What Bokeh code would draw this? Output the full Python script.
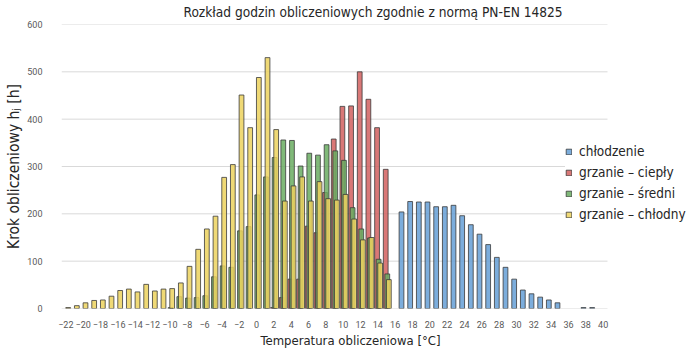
from bokeh.plotting import figure
from bokeh.models import Legend, LegendItem, Title, ColumnDataSource, FixedTicker
from bokeh.embed import file_html
from bokeh.resources import INLINE

# ---- data ----
title_text = "Rozkład godzin obliczeniowych zgodnie z normą PN-EN 14825"
x_title = "Temperatura obliczeniowa [°C]"
y_title = "Krok obliczeniowy hⱼ [h]"

x_ticks = list(range(-22, 41, 2))
x_tick_labels = [str(t).replace("-", "−") for t in x_ticks]
y_ticks = [0, 100, 200, 300, 400, 500, 600]

series_names = ["chłodzenie", "grzanie – ciepły", "grzanie – średni", "grzanie – chłodny"]

chlodzenie_t = list(range(17, 40))
chlodzenie_v = [204, 226, 225, 225, 215, 215, 218, 196, 177, 157, 135, 108, 87,
                62, 39, 31, 24, 18, 12, 0, 0, 2, 2]

cieply_t = list(range(2, 16))
cieply_v = [2, 23, 62, 62, 174, 160, 245, 358, 427, 428, 500, 442, 382, 294]

sredni_t = list(range(-10, 16))
sredni_v = [2, 25, 22, 23, 27, 67, 90, 87, 164, 173, 240, 278, 319, 356, 355, 301,
            328, 324, 346, 333, 313, 213, 168, 149, 104, 73]

chlodny_t = list(range(-22, 16))
chlodny_v = [2, 6, 12, 17, 18, 26, 38, 41, 35, 51, 37, 41, 42, 54, 89, 125, 168, 195,
             277, 304, 451, 382, 488, 530, 378, 227, 259, 278, 227, 268, 232, 229, 241,
             189, 145, 150, 96, 61]

colors = ["#659fd6", "#d2605f", "#6aad62", "#ecd25e"]
offsets = [-0.27, -0.09, 0.09, 0.27]

NARROW = "DejaVu Sans Condensed"
TICKF = "Roboto"
TXT = "#262626"

X_START, X_DATA_END, X_END = -22.5, 40.5, 51.23

p = figure(width=700, height=350, output_backend="svg", toolbar_location=None,
           x_range=(X_START, X_END), y_range=(0, 600),
           min_border_left=61, min_border_right=0, min_border_top=24, min_border_bottom=42)
p.outline_line_color = None
p.background_fill_color = "white"

# horizontal gridlines only over the plotted temperature span
grid = p.segment(x0=X_START, x1=X_DATA_END, y0=y_ticks, y1=y_ticks,
                 line_color="#d9d9d9", line_width=1)
grid.level = "underlay"

all_series = [(chlodzenie_t, chlodzenie_v), (cieply_t, cieply_v),
              (sredni_t, sredni_v), (chlodny_t, chlodny_v)]
renderers = []
for (ts, vs), col, off in zip(all_series, colors, offsets):
    xs = [t + off for t, v in zip(ts, vs) if v > 0]
    tops = [v for v in vs if v > 0]
    src = ColumnDataSource(dict(x=xs, top=tops))
    r = p.vbar(x="x", top="top", bottom=0, width=0.55, source=src,
               fill_color=col, fill_alpha=0.85, line_color="#3a3a3a", line_width=0.8)
    renderers.append(r)

# axes
p.xaxis.ticker = FixedTicker(ticks=x_ticks)
p.xaxis.major_label_overrides = {t: l for t, l in zip(x_ticks, x_tick_labels)}
p.xaxis.axis_line_color = None
p.xaxis.major_tick_line_color = None
p.xaxis.minor_tick_line_color = None
p.xaxis.major_label_standoff = 6
p.xaxis.major_label_text_font = TICKF
p.xaxis.major_label_text_font_size = "9px"
p.xaxis.major_label_text_color = "#595959"

p.yaxis.ticker = FixedTicker(ticks=y_ticks)
p.yaxis.axis_line_color = None
p.yaxis.major_tick_line_color = None
p.yaxis.minor_tick_line_color = None
p.yaxis.major_label_standoff = 13
p.yaxis.major_label_text_font = TICKF
p.yaxis.major_label_text_font_size = "9px"
p.yaxis.major_label_text_color = "#595959"
p.yaxis.axis_label = y_title
p.yaxis.axis_label_text_font = NARROW
p.yaxis.axis_label_text_font_size = "15.5px"
p.yaxis.axis_label_text_font_style = "normal"
p.yaxis.axis_label_text_color = TXT
p.yaxis.axis_label_standoff = 1

p.xgrid.grid_line_color = None
p.ygrid.grid_line_color = None

# chart title (above) and x title (below)
p.title = Title(text=title_text, align="left", offset=122, standoff=5, vertical_align="top",
                text_font=NARROW, text_font_size="13.6px", text_font_style="normal",
                text_color=TXT)
p.add_layout(Title(text=x_title, align="left", offset=199, standoff=0,
                   text_font=NARROW, text_font_size="13px", text_font_style="normal",
                   text_color=TXT), "below")

legend = Legend(items=[LegendItem(label=n, renderers=[r]) for n, r in zip(series_names, renderers)],
                location=(504, 86), border_line_color=None, background_fill_color="white",
                background_fill_alpha=1.0, label_text_font=NARROW, label_text_font_size="13.5px",
                label_text_color=TXT, glyph_width=7, glyph_height=7, label_standoff=7,
                label_height=16, spacing=5, padding=8, margin=0)
p.add_layout(legend)

open("out.html", "w").write(file_html(p, INLINE))
